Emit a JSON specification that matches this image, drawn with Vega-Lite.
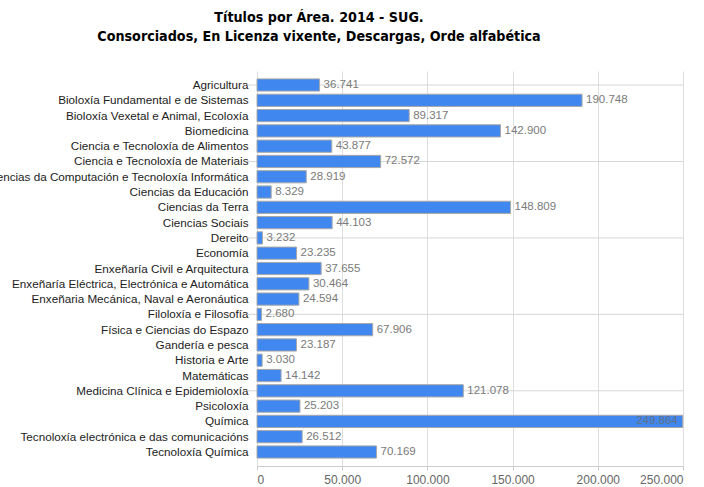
{
  "$schema": "https://vega.github.io/schema/vega-lite/v6.json",
  "autosize": {"type": "none"},
  "width": 426,
  "height": 395,
  "padding": {"left": 257, "top": 71, "right": 21, "bottom": 21},
  "background": "white",
  "title": {
    "text": ["Títulos por Área. 2014 - SUG.", "Consorciados, En Licenza vixente, Descargas, Orde alfabética"],
    "font": "Liberation Sans Narrow, DejaVu Sans Condensed, sans-serif",
    "fontSize": 14.2,
    "fontWeight": "bold",
    "color": "#000000",
    "anchor": "middle",
    "dx": -151,
    "offset": 27,
    "lineHeight": 19
  },
  "config": {
    "view": {"stroke": null},
    "locale": {"number": {"decimal": ",", "thousands": ".", "grouping": [3], "currency": ["", " €"]}}
  },
  "data": {
    "values": [
      {"Area": "Agricultura", "Titulos": 36741},
      {"Area": "Bioloxía Fundamental e de Sistemas", "Titulos": 190748},
      {"Area": "Bioloxía Vexetal e Animal, Ecoloxía", "Titulos": 89317},
      {"Area": "Biomedicina", "Titulos": 142900},
      {"Area": "Ciencia e Tecnoloxía de Alimentos", "Titulos": 43877},
      {"Area": "Ciencia e Tecnoloxía de Materiais", "Titulos": 72572},
      {"Area": "Ciencias da Computación e Tecnoloxía Informática", "Titulos": 28919},
      {"Area": "Ciencias da Educación", "Titulos": 8329},
      {"Area": "Ciencias da Terra", "Titulos": 148809},
      {"Area": "Ciencias Sociais", "Titulos": 44103},
      {"Area": "Dereito", "Titulos": 3232},
      {"Area": "Economía", "Titulos": 23235},
      {"Area": "Enxeñaría Civil e Arquitectura", "Titulos": 37655},
      {"Area": "Enxeñaría Eléctrica, Electrónica e Automática", "Titulos": 30464},
      {"Area": "Enxeñaria Mecánica, Naval e Aeronáutica", "Titulos": 24594},
      {"Area": "Filoloxía e Filosofía", "Titulos": 2680},
      {"Area": "Física e Ciencias do Espazo", "Titulos": 67906},
      {"Area": "Gandería e pesca", "Titulos": 23187},
      {"Area": "Historia e Arte", "Titulos": 3030},
      {"Area": "Matemáticas", "Titulos": 14142},
      {"Area": "Medicina Clínica e Epidemioloxía", "Titulos": 121078},
      {"Area": "Psicoloxía", "Titulos": 25203},
      {"Area": "Química", "Titulos": 249864},
      {"Area": "Tecnoloxía electrónica e das comunicacións", "Titulos": 26512},
      {"Area": "Tecnoloxía Química", "Titulos": 70169}
    ]
  },
  "encoding": {
    "y": {
      "field": "Area",
      "type": "nominal",
      "sort": null,
      "scale": {
        "domain": ["Agricultura", "Bioloxía Fundamental e de Sistemas", "Bioloxía Vexetal e Animal, Ecoloxía", "Biomedicina", "Ciencia e Tecnoloxía de Alimentos", "Ciencia e Tecnoloxía de Materiais", "Ciencias da Computación e Tecnoloxía Informática", "Ciencias da Educación", "Ciencias da Terra", "Ciencias Sociais", "Dereito", "Economía", "Enxeñaría Civil e Arquitectura", "Enxeñaría Eléctrica, Electrónica e Automática", "Enxeñaria Mecánica, Naval e Aeronáutica", "Filoloxía e Filosofía", "Física e Ciencias do Espazo", "Gandería e pesca", "Historia e Arte", "Matemáticas", "Medicina Clínica e Epidemioloxía", "Psicoloxía", "Química", "Tecnoloxía electrónica e das comunicacións", "Tecnoloxía Química"],
        "paddingInner": 0.2,
        "paddingOuter": 0.516
      },
      "axis": {
        "title": null,
        "ticks": false,
        "domain": false,
        "grid": false,
        "labelPadding": 9,
        "labelFont": "Liberation Sans, Arial, sans-serif",
        "labelFontSize": 11.7,
        "labelColor": "#222222",
        "labelLimit": 400
      }
    }
  },
  "layer": [
    {
      "mark": {"type": "rule", "color": "#d6d6d6", "strokeWidth": 1},
      "transform": [
        {"window": [{"op": "row_number", "as": "rn"}]},
        {"filter": "(datum.rn - 1) % 5 == 0"}
      ],
      "encoding": {
        "x": {
          "datum": -5900,
          "type": "quantitative",
          "scale": {"domain": [0, 250000], "nice": false, "zero": true},
          "axis": {
            "title": null,
            "values": [0, 50000, 100000, 150000, 200000, 250000],
            "format": ",d",
            "grid": true,
            "gridColor": "#dedede",
            "domainColor": "#cccccc",
            "tickColor": "#cccccc",
            "tickSize": 4,
            "labelFont": "Liberation Sans, Arial, sans-serif",
            "labelFontSize": 12,
            "labelColor": "#666666",
            "labelPadding": 4
          }
        },
        "x2": {"datum": 250000}
      }
    },
    {
      "mark": {"type": "bar", "color": "#4187f0", "stroke": "#a8a8a8", "strokeWidth": 1},
      "encoding": {
        "x": {"field": "Titulos", "type": "quantitative"}
      }
    },
    {
      "transform": [{"filter": "datum.Titulos < 230000"}],
      "mark": {"type": "text", "align": "left", "baseline": "middle", "dx": 4, "font": "Liberation Sans, Arial, sans-serif", "fontSize": 11.5, "color": "#7a7a7a"},
      "encoding": {
        "x": {"field": "Titulos", "type": "quantitative"},
        "text": {"field": "Titulos", "type": "quantitative", "format": ",d"}
      }
    },
    {
      "transform": [{"filter": "datum.Titulos >= 230000"}],
      "mark": {"type": "text", "align": "right", "baseline": "middle", "dx": -5, "font": "Liberation Sans, Arial, sans-serif", "fontSize": 11.5, "color": "#5f6f85"},
      "encoding": {
        "x": {"field": "Titulos", "type": "quantitative"},
        "text": {"field": "Titulos", "type": "quantitative", "format": ",d"}
      }
    }
  ]
}
